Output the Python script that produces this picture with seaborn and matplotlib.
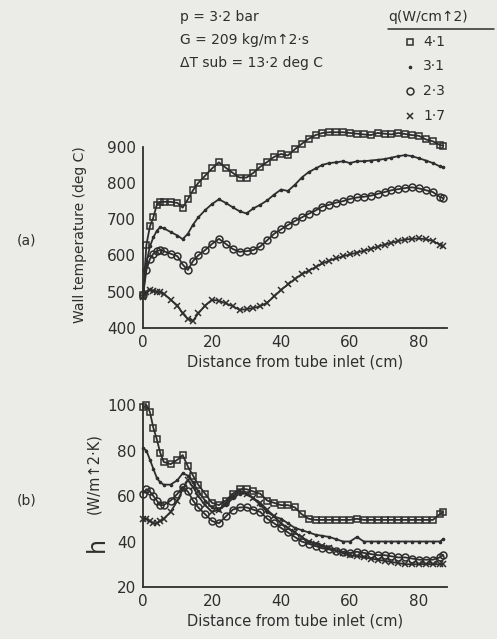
import numpy as np
import pandas as pd
import matplotlib
matplotlib.use("Agg")
import matplotlib.pyplot as plt
from matplotlib.ticker import MultipleLocator
import seaborn as sns

# Distance from tube inlet (cm) at which wall thermocouples are read
distance = [0, 1, 2, 3, 4, 5, 6, 8, 10, 11.5, 13, 14.5, 16, 18, 20, 22, 24, 26, 28,
            30, 32, 34, 36, 38, 40, 42, 44, 46, 48, 50, 52, 54, 56, 58, 60, 62, 64,
            66, 68, 70, 72, 74, 76, 78, 80, 82, 84, 86, 87]

heat_flux_labels = ["4·1", "3·1", "2·3", "1·7"]

# (a) wall temperature, deg C
wall_t_41 = [490, 630, 680, 705, 740, 748, 748, 748, 745, 732, 755, 780, 800, 820, 840,
             857, 842, 828, 815, 815, 828, 845, 858, 872, 880, 876, 893, 908, 922, 932,
             938, 940, 940, 940, 938, 936, 934, 932, 938, 936, 934, 938, 935, 932, 930,
             920, 915, 905, 903]
wall_t_31 = [490, 580, 625, 650, 668, 678, 675, 665, 655, 645, 660, 685, 705, 725, 742,
             755, 745, 733, 722, 716, 730, 740, 752, 768, 782, 778, 795, 815, 830, 840,
             850, 855, 857, 860, 855, 860, 860, 862, 864, 866, 870, 874, 877, 874, 868,
             862, 855, 846, 843]
wall_t_23 = [490, 560, 590, 605, 612, 615, 612, 605, 598, 575, 560, 585, 600, 615, 632,
             646, 632, 618, 610, 612, 615, 625, 642, 660, 672, 684, 695, 705, 715, 724,
             735, 740, 746, 750, 756, 760, 762, 765, 770, 775, 780, 783, 786, 788, 785,
             780, 775, 762, 758]
wall_t_17 = [485, 500, 505, 503, 500, 498, 495, 478, 462, 440, 425, 420, 440, 462, 478,
             475, 468, 460, 450, 452, 455, 460, 470, 487, 505, 520, 535, 548, 558, 568,
             578, 586, 592, 598, 603, 608, 613, 618, 624, 630, 635, 640, 644, 646, 647,
             645, 640, 630, 626]

# (b) heat transfer coefficient, W/m^2.K
htc_41 = [99, 100, 97, 90, 85, 79, 75, 74, 76, 78, 73, 69, 65, 61, 57, 56, 58, 61, 63, 63,
          62, 61, 58, 57, 56, 56, 55, 52, 50, 49.5, 49.5, 49.5, 49.5, 49.5, 49.5, 50,
          49.5, 49.5, 49.5, 49.5, 49.5, 49.5, 49.5, 49.5, 49.5, 49.5, 49.5, 52, 53]
htc_31 = [81, 80, 76, 72, 68, 66, 65, 65, 67, 70, 69, 66, 62, 58, 55, 54, 56, 59, 61, 61,
          59, 56, 53, 51, 50, 48, 46, 45, 44, 43, 42.5, 42, 41, 40, 40, 42, 40, 40, 40,
          40, 40, 40, 40, 40, 40, 40, 40, 40, 41]
htc_23 = [61, 63, 62, 60, 58, 56, 56, 58, 61, 64, 62, 58, 55, 52, 49, 48, 51, 54, 55, 55,
          54, 53, 50, 48, 46, 44, 42, 40, 39, 38, 37, 36.5, 36, 35.5, 35, 35.5, 35, 34.5,
          34, 34, 33.5, 33, 33, 32.5, 32, 32, 32, 33, 34]
htc_17 = [50, 50, 49, 48, 48, 49, 50, 53, 58, 63, 67, 64, 60, 56, 53, 54, 57, 60, 62, 61,
          59, 57, 54, 51, 48, 46, 44, 42, 40, 39, 38, 37, 36, 35, 34, 33.5, 33, 32.5, 32,
          31.5, 31, 30.5, 30, 30, 30, 30, 30, 30, 30]

wall_series = [wall_t_41, wall_t_31, wall_t_23, wall_t_17]
htc_series = [htc_41, htc_31, htc_23, htc_17]

BG = "#ebebe8"
INK = "#2e2e2e"

sns.set_style("white")
plt.rcParams["font.family"] = ["DejaVu Sans"]
plt.rcParams["text.color"] = INK
plt.rcParams["axes.labelcolor"] = INK
plt.rcParams["xtick.color"] = INK
plt.rcParams["ytick.color"] = INK

marker_styles = [
    dict(marker="s", mfc="none", ms=5.0, mew=1.1),
    dict(marker=".", mfc=INK, ms=3.4, mew=0.9),
    dict(marker="o", mfc="none", ms=5.0, mew=1.1),
    dict(marker="x", mfc=INK, ms=3.8, mew=1.1),
]

fig = plt.figure(figsize=(4.97, 6.39), dpi=100, facecolor=BG)
ax_t = fig.add_axes([0.2877, 0.4867, 0.611, 0.3177])
ax_h = fig.add_axes([0.2877, 0.0814, 0.611, 0.2918])

frames = []
for label, wt, hc in zip(heat_flux_labels, wall_series, htc_series):
    frames.append(pd.DataFrame({"distance": distance, "wall_t": wt, "h": hc, "q": label}))
df = pd.concat(frames, ignore_index=True)

for ax, col in ((ax_t, "wall_t"), (ax_h, "h")):
    ax.set_facecolor(BG)
    for label, st in zip(heat_flux_labels, marker_styles):
        sub = df[df["q"] == label]
        sns.lineplot(data=sub, x="distance", y=col, ax=ax, color=INK, lw=1.3,
                     mec=INK, clip_on=False, legend=False, **st)
    for s in ("top", "right"):
        ax.spines[s].set_visible(False)
    for s in ("left", "bottom"):
        ax.spines[s].set_color(INK)
        ax.spines[s].set_linewidth(1.3)
    ax.set_xlim(0, 88)
    ax.xaxis.set_major_locator(MultipleLocator(20))
    ax.xaxis.set_minor_locator(MultipleLocator(10))
    ax.tick_params(which="both", direction="in", labelsize=11, width=1.1, pad=5)
    ax.tick_params(which="major", length=5)
    ax.tick_params(which="minor", length=4)
    ax.set_xlabel("Distance from tube inlet (cm)", fontsize=10.5, labelpad=3)
    ax.set_ylabel("")

ax_t.set_ylim(400, 960)
ax_t.set_yticks(range(400, 901, 100))
ax_t.yaxis.set_minor_locator(MultipleLocator(50))
ax_t.spines["left"].set_bounds(400, 900)

ax_h.set_ylim(20, 102)
ax_h.set_yticks(range(20, 101, 20))
ax_h.yaxis.set_minor_locator(MultipleLocator(10))
ax_h.spines["left"].set_bounds(20, 100)

# axis titles and panel tags
fig.text(80 / 497, 1 - 235 / 639, "Wall temperature (deg C)", rotation=90,
         ha="center", va="center", fontsize=10)
fig.text(27 / 497, 1 - 240 / 639, "(a)", ha="center", va="center", fontsize=10)
fig.text(27 / 497, 1 - 500 / 639, "(b)", ha="center", va="center", fontsize=10)
fig.text(97 / 497, 1 - 545 / 639, "h", rotation=90, ha="center", va="center",
         fontsize=17)
fig.text(94 / 497, 1 - 474 / 639, "(W/m↑2·K)", rotation=90, ha="center",
         va="center", fontsize=10.5)

# test conditions
for i, line in enumerate(["p = 3·2 bar", "G = 209 kg/m↑2·s", "ΔT sub = 13·2 deg C"]):
    fig.text(180 / 497, 1 - (17 + 23 * i) / 639, line, ha="left", va="center",
             fontsize=10)

# heat flux key
fig.text(388 / 497, 1 - 17 / 639, "q(W/cm↑2)", ha="left", va="center", fontsize=10)
fig.add_artist(plt.Line2D([388 / 497, 494 / 497], [1 - 29 / 639, 1 - 29 / 639],
                          color=INK, lw=1.1, transform=fig.transFigure))
for i, (label, st) in enumerate(zip(heat_flux_labels, marker_styles)):
    yk = 1 - (42 + 24.5 * i) / 639
    fig.add_artist(plt.Line2D([410 / 497], [yk], ls="none", color=INK, mec=INK,
                              transform=fig.transFigure, **st))
    fig.text(423 / 497, yk, label, ha="left", va="center", fontsize=10)

fig.savefig("out.png", dpi=100, facecolor=BG)
